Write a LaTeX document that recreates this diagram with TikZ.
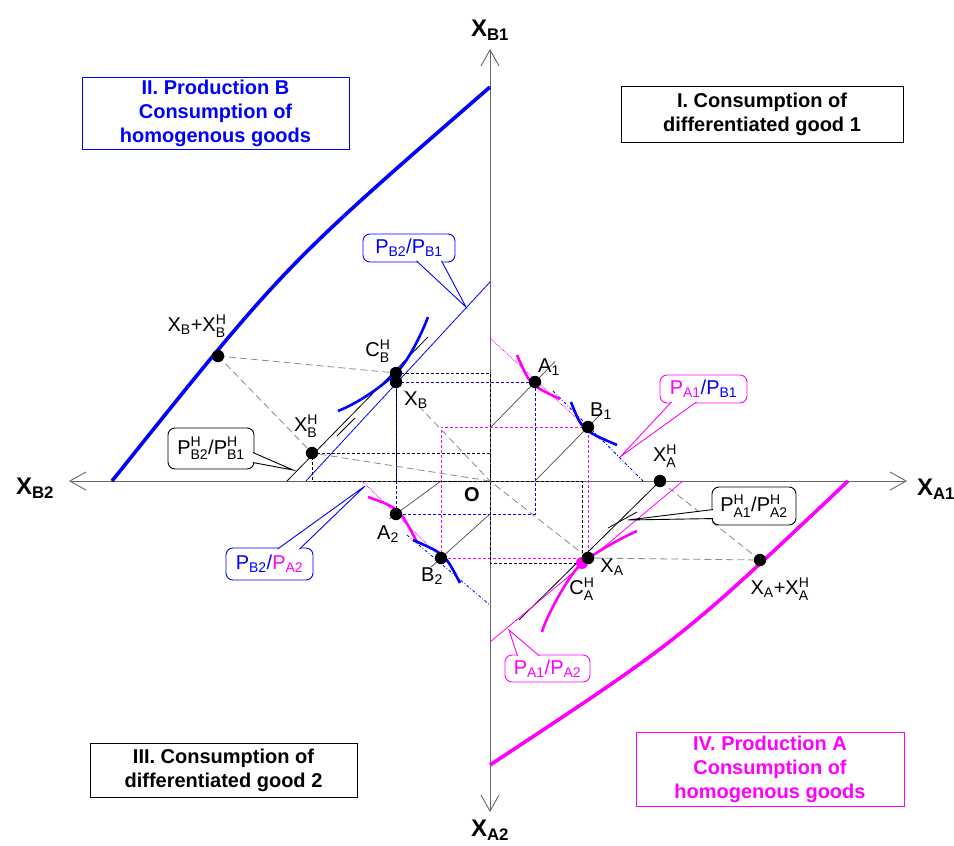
\documentclass[tikz,border=0pt]{standalone}
\usepackage{fontspec}
\setmainfont{Liberation Sans}
\usepackage{amsmath}
\usetikzlibrary{arrows.meta,calc}

\definecolor{prodB}{RGB}{0,0,255}
\definecolor{prodA}{RGB}{255,0,255}
\newcommand{\xlo}[1]{\ensuremath{_{\text{#1}}}}
\newcommand{\xhl}[1]{\ensuremath{^{\text{H}}_{\text{#1}}}}

\begin{document}
\begin{tikzpicture}[x=1pt, y=-1pt,
  font=\fontsize{20}{24}\selectfont,
  axisline/.style={black!60, line width=0.9pt,
    {Straight Barb[length=16pt,width=18pt]}-{Straight Barb[length=16pt,width=18pt]}},
  frontier/.style={line width=3.6pt},
  indiff/.style={line width=2.6pt},
  price/.style={line width=0.8pt},
  ray/.style={black!70, line width=0.7pt},
  guide/.style={dash pattern=on 3pt off 2pt, line width=0.9pt},
  link/.style={black!45, dash pattern=on 7pt off 4pt, line width=0.8pt},
  titlebox/.style={draw, line width=0.9pt, align=center, inner sep=0pt,
    font=\fontsize{20}{24}\selectfont\bfseries},
  callbox/.style={draw, fill=white, rounded corners=7pt, line width=0.9pt, inner sep=0pt},
  axlabel/.style={font=\fontsize{24}{28}\selectfont\bfseries}
]
\useasboundingbox[fill=white] (0,0) rectangle (954,846);

% axes
\coordinate (O) at (490,481);
\coordinate (aT) at (490,49);
\coordinate (aB) at (490,812);
\coordinate (aL) at (69,481);
\coordinate (aR) at (907,481);
\draw[axisline] (aL) -- (aR);
\draw[axisline] (aB) -- (aT);
\node[axlabel] (lB1) at (490,30) {X\xlo{B1}};
\node[axlabel] (lA2) at (490,830) {X\xlo{A2}};
\node[axlabel] (lB2) at (35,488) {X\xlo{B2}};
\node[axlabel] (lA1) at (936,489) {X\xlo{A1}};

% points
\coordinate (XBXH) at (218,356);
\coordinate (CBH) at (396,373);
\coordinate (XB) at (396,382);
\coordinate (XBH) at (312,453);
\coordinate (A1) at (535,382);
\coordinate (B1) at (588,427);
\coordinate (A2) at (396,514);
\coordinate (B2) at (441,558);
\coordinate (XA) at (588,558);
\coordinate (CAH) at (582,563);
\coordinate (XAH) at (660,481);
\coordinate (XAXH) at (760,560);

% dashed boxes
\draw[guide, prodB] (XB) -- (A1) -- (A1 |- A2) -- (A2) -- cycle;
\draw[guide, prodA] (B1) -- (B2 |- B1) -- (B2) -- (B1 |- B2) -- cycle;
\draw[guide] (CBH) -- (O |- CBH) -- (O) -- (CBH |- O) -- cycle;
\draw[guide] (XBH) -- (O |- XBH) -- (O) -- (XBH |- O) -- cycle;
\draw[guide] (CAH) -- (CAH |- O) -- (O) -- (O |- CAH) -- cycle;

% links between the points
\draw[link] (XBXH) -- (CBH);
\draw[link] (XBXH) -- (XBH) -- (O);
\draw[link] (XB) -- (O) -- (XA);
\draw[link] (XAH) -- (XAXH) -- (XA);

% rays
\coordinate (A1r) at (490,428);
\coordinate (B1r) at (535,481);
\coordinate (A2r) at (441,481);
\coordinate (B2r) at (490,514);
\draw[ray] (A1r) -- ($(A1r)!1.45!(A1)$);
\draw[ray] (B1r) -- ($(B1r)!1.25!(B1)$);
\draw[ray] (A2r) -- ($(A2r)!1.15!(A2)$);
\draw[ray] (B2r) -- ($(B2r)!1.2!(B2)$);

% price lines
\coordinate (PHB0) at (287,481);
\coordinate (PHB1) at (428,337);
\coordinate (PHA1) at (519,620);
\coordinate (PBl0) at (306,481);
\coordinate (PBl1) at (490,282);
\coordinate (PAl0) at (683,481);
\coordinate (PAl1) at (490,642);
\draw[price] (PHB0) -- (PHB1);
\draw[price] (337,436) -- (355,418);
\draw[price] (XAH) -- (PHA1);
\draw[price] (608,528) -- (637,512);
\draw[price, prodB] (PBl0) -- (PBl1);
\draw[price, prodA] (PAl0) -- (PAl1);
\draw[price, prodA, densely dotted] (490,338) -- (600,440);
\draw[price, prodB, dash dot] (553,391) -- (643,481);
\draw[price, prodA, densely dotted] (362,481) -- (432,549);
\draw[price, prodB, dash dot] (407,535) -- (490,605);

% production frontiers
\draw[prodB, frontier] (112,481) .. controls (284,266) .. (490,87);
\draw[prodA, frontier] (490,765) .. controls (681,639) .. (848,481);

% indifference curves
\draw[prodB, indiff] (338,411) .. controls (358,403) and (380,388) .. (CBH)
  .. controls (408,362) and (422,333) .. (428,317);
\draw[prodA, indiff] (637,531) .. controls (619,539) and (593,554) .. (CAH)
  .. controls (571,572) and (547,614) .. (542,632);
\draw[prodA, indiff] (517,355) .. controls (530,385) .. (560,399);
\draw[prodB, indiff] (571,402) .. controls (582,430) .. (617,445);
\draw[prodA, indiff] (368,497) .. controls (399,508) .. (417,542);
\draw[prodB, indiff] (413,540) .. controls (445,554) .. (460,583);

% dots
\foreach \p in {XBXH,CBH,XB,XBH,A1,B1,A2,B2,XA,XAH,XAXH}
  \fill (\p) circle[radius=6.2];
\fill[prodA] (CAH) circle[radius=6];
\fill (XA) circle[radius=6.2];

% point labels
\node (tXBXH) at (197,326) {X\xlo{B}+X\xhl{B}};
\node (tCBH) at (378,351) {C\xhl{B}};
\node (tXB) at (416,400) {X\xlo{B}};
\node (tXBH) at (306,426) {X\xhl{B}};
\node (tA1) at (549,367) {A\xlo{1}};
\node (tB1) at (601,411) {B\xlo{1}};
\node (tXAH) at (665,456) {X\xhl{A}};
\node (tA2) at (388,534) {A\xlo{2}};
\node (tB2) at (432,576) {B\xlo{2}};
\node (tXA) at (612,567) {X\xlo{A}};
\node (tCAH) at (582,589) {C\xhl{A}};
\node (tXAXH) at (780,589) {X\xlo{A}+X\xhl{A}};
\node[font=\fontsize{20}{24}\selectfont\bfseries] (tO) at (472,495) {O};

% quadrant titles
\node[titlebox, draw=prodB, text=prodB, minimum width=267pt, minimum height=72pt]
  (qII) at (215.5,113) {II. Production B\\Consumption of\\homogenous goods};
\node[titlebox, minimum width=282pt, minimum height=56pt]
  (qI) at (762,114) {I. Consumption of\\differentiated good 1};
\node[titlebox, minimum width=267pt, minimum height=54pt]
  (qIII) at (223.5,770) {III. Consumption of\\differentiated good 2};
\node[titlebox, draw=prodA, text=prodA, minimum width=268pt, minimum height=74pt]
  (qIV) at (770,769) {IV. Production A\\Consumption of\\homogenous goods};

% callouts
\node[callbox, draw=prodB, text=prodB, minimum width=92pt, minimum height=28pt]
  (cBB) at (409,248) {P\xlo{B2}/P\xlo{B1}};
\coordinate (cBBtip) at (466,307);
\filldraw[prodB, fill=white, line width=0.9pt] ($(cBB.south west)+(54,-1.5)$)
  -- (cBBtip) -- ($(cBB.south west)+(79,-1.5)$);

\node[callbox, draw=prodA, minimum width=87pt, minimum height=28pt]
  (cAB) at (703.5,389) {\color{prodA}P\xlo{A1}\color{prodB}/P\xlo{B1}};
\coordinate (cABtip) at (620,457);
\filldraw[prodA, fill=white, line width=0.9pt] ($(cAB.south west)+(12,-1.5)$)
  -- (cABtip) -- ($(cAB.south west)+(37,-1.5)$);

\node[callbox, minimum width=86pt, minimum height=41pt]
  (cBH) at (211,448.5) {P\xhl{B2}/P\xhl{B1}};
\coordinate (cBHtip) at (293,470);
\filldraw[fill=white, line width=0.9pt] ($(cBH.north east)+(-1.5,25)$)
  -- (cBHtip) -- ($(cBH.north east)+(-1.5,35)$);

\node[callbox, draw=prodB, minimum width=87pt, minimum height=32pt]
  (cBA) at (269.5,564) {\color{prodB}P\xlo{B2}/\color{prodA}P\xlo{A2}};
\coordinate (cBAtip) at (365,486);
\filldraw[prodB, fill=white, line width=0.9pt] ($(cBA.north west)+(52,1.5)$)
  -- (cBAtip) -- ($(cBA.north west)+(74,1.5)$);

\node[callbox, draw=prodA, text=prodA, minimum width=85pt, minimum height=27pt]
  (cAA) at (547.5,668.5) {P\xlo{A1}/P\xlo{A2}};
\coordinate (cAAtip) at (509,630);
\filldraw[prodA, fill=white, line width=0.9pt] ($(cAA.north west)+(13,1.5)$)
  -- (cAAtip) -- ($(cAA.north west)+(35,1.5)$);

\node[callbox, minimum width=84pt, minimum height=38pt]
  (cAH) at (754,506) {P\xhl{A1}/P\xhl{A2}};
\coordinate (cAHtip) at (628,520);
\filldraw[fill=white, line width=0.9pt] ($(cAH.north west)+(1.5,23)$)
  -- (cAHtip) -- ($(cAH.north west)+(1.5,32)$);
\end{tikzpicture}
\end{document}
